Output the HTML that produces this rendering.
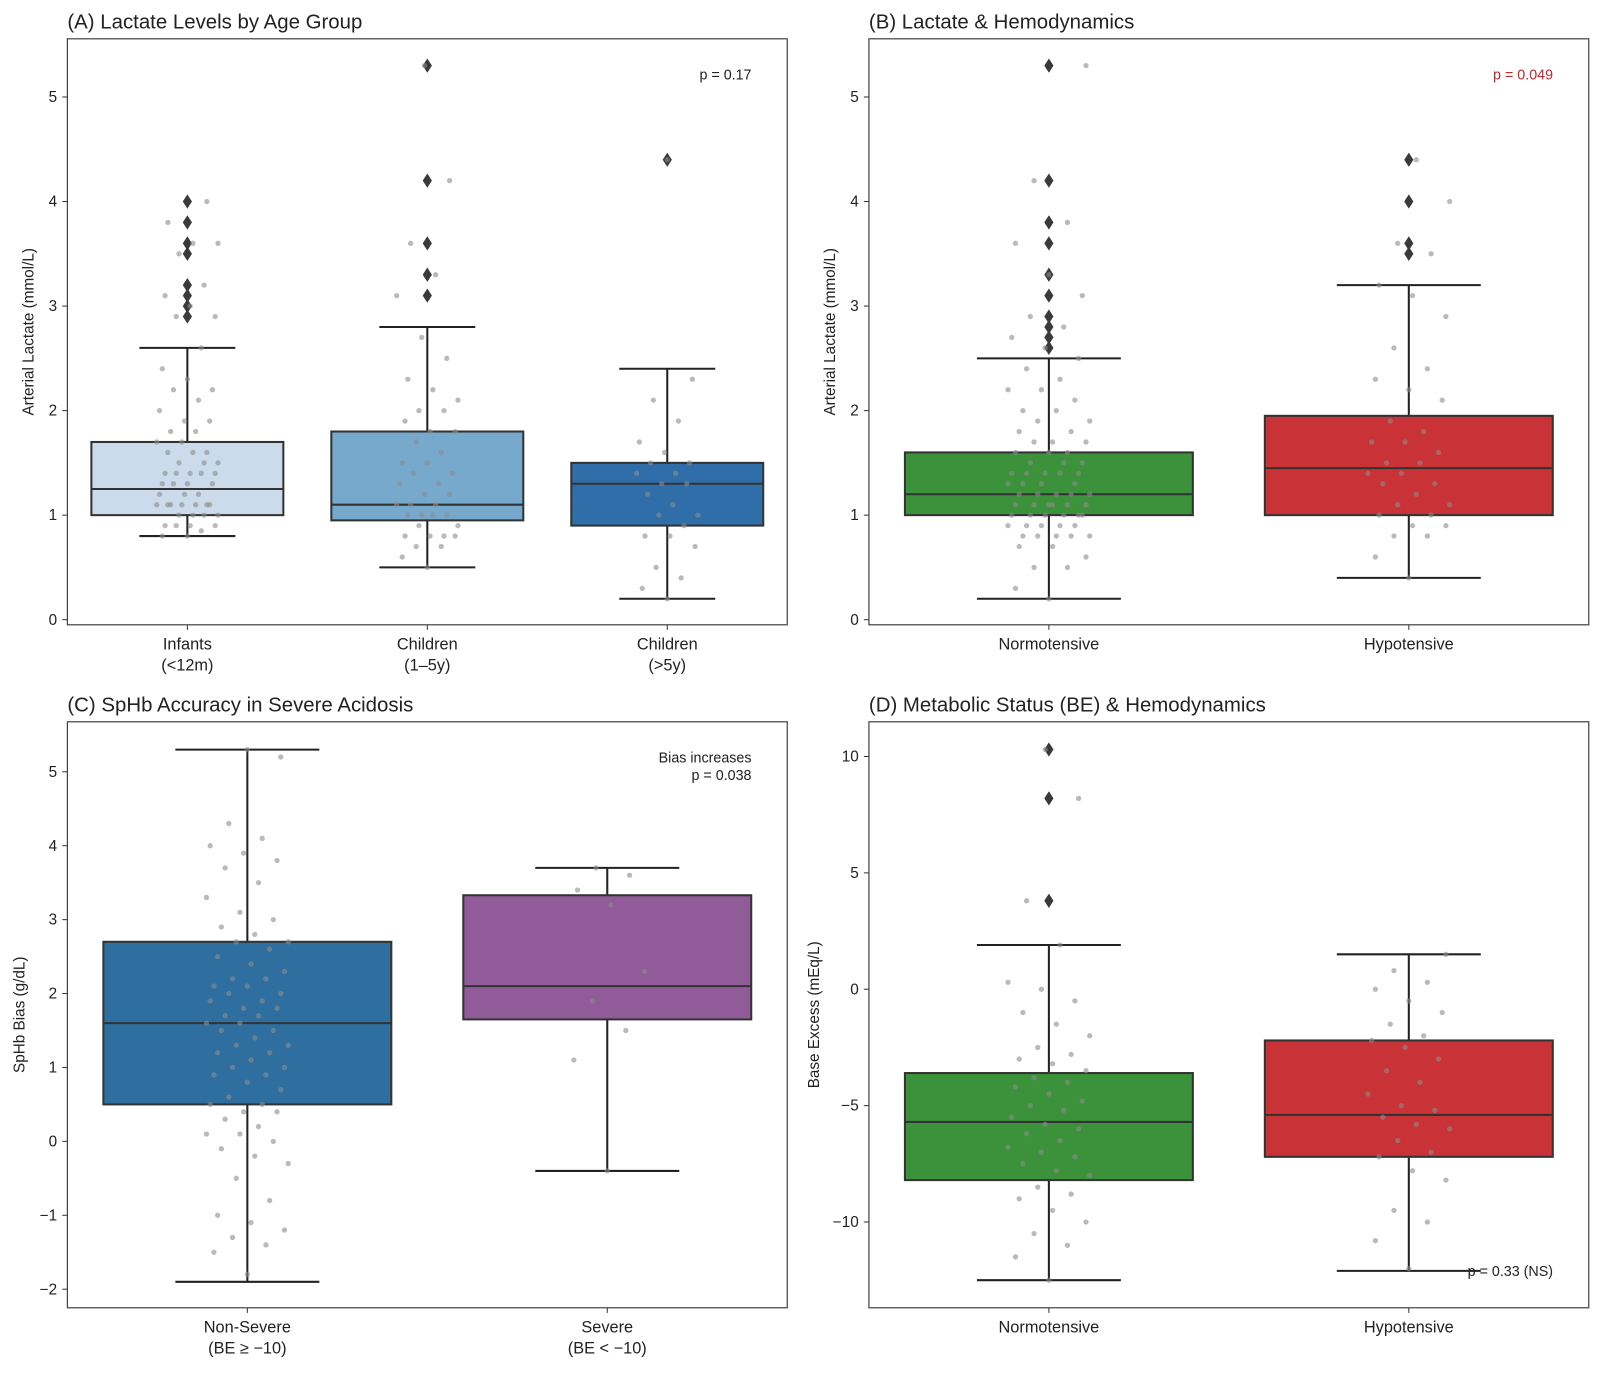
<!DOCTYPE html>
<html><head><meta charset="utf-8"><style>
body{margin:0;background:#fff;font-family:"Liberation Sans",sans-serif}
svg text{font-family:"Liberation Sans",sans-serif}
</style></head><body>
<svg id="chart" width="1600" height="1368" viewBox="0 0 1567 1340" preserveAspectRatio="none" xmlns="http://www.w3.org/2000/svg"></svg>
<script>
// Panel A data
const catsA = [["Infants","(<12m)"],["Children","(1\u20135y)"],["Children","(>5y)"]];
const boxA = [[0.8,1.0,1.25,1.7,2.6],[0.5,0.95,1.1,1.8,2.8],[0.2,0.9,1.3,1.5,2.4]];
const outA = [[2.9,3.0,3.1,3.2,3.5,3.6,3.8,4.0],[3.1,3.3,3.6,4.2,5.3],[4.4]];
const ptsA = [
 [0.8,0.8,0.85,0.9,0.9,0.9,0.9,1.0,1.0,1.0,1.0,1.1,1.1,1.1,1.1,1.1,1.1,1.1,1.2,1.2,1.2,1.3,1.3,1.3,1.3,1.4,1.4,1.4,1.4,1.4,1.5,1.5,1.5,1.6,1.6,1.6,1.7,1.7,1.8,1.8,1.9,1.9,2.0,2.1,2.2,2.2,2.3,2.4,2.6,2.9,2.9,3.0,3.1,3.2,3.5,3.6,3.6,3.8,4.0],
 [0.5,0.6,0.7,0.7,0.8,0.8,0.8,0.8,0.9,0.9,1.0,1.0,1.0,1.0,1.1,1.1,1.1,1.2,1.2,1.3,1.3,1.4,1.4,1.5,1.5,1.6,1.7,1.8,1.8,1.9,2.0,2.0,2.1,2.2,2.3,2.5,2.7,3.1,3.3,3.6,4.2,5.3],
 [0.2,0.3,0.4,0.5,0.7,0.8,0.8,0.9,1.0,1.0,1.1,1.2,1.3,1.3,1.4,1.4,1.5,1.5,1.6,1.7,1.9,2.1,2.3,4.4]
];
// Panel B data
const catsB = [["Normotensive"],["Hypotensive"]];
const boxB = [[0.2,1.0,1.2,1.6,2.5],[0.4,1.0,1.45,1.95,3.2]];
const outB = [[2.6,2.7,2.8,2.9,3.1,3.3,3.6,3.8,4.2,5.3],[3.5,3.6,4.0,4.4]];
const ptsB = [
 [0.2,0.3,0.5,0.5,0.6,0.7,0.7,0.8,0.8,0.8,0.8,0.8,0.9,0.9,0.9,0.9,0.9,1.0,1.0,1.0,1.0,1.0,1.0,1.1,1.1,1.1,1.1,1.1,1.1,1.2,1.2,1.2,1.2,1.2,1.3,1.3,1.3,1.3,1.4,1.4,1.4,1.4,1.4,1.5,1.5,1.5,1.6,1.6,1.6,1.7,1.7,1.7,1.8,1.8,1.9,1.9,2.0,2.0,2.1,2.2,2.2,2.3,2.4,2.5,2.6,2.7,2.8,2.9,3.1,3.3,3.6,3.8,4.2,5.3],
 [0.4,0.6,0.8,0.8,0.9,0.9,1.0,1.0,1.1,1.1,1.2,1.3,1.3,1.4,1.4,1.5,1.5,1.6,1.7,1.7,1.8,1.9,2.1,2.2,2.3,2.4,2.6,2.9,3.1,3.2,3.5,3.6,4.0,4.4]
];
// Panel C data
const catsC = [["Non-Severe","(BE \u2265 \u221210)"],["Severe","(BE < \u221210)"]];
const boxC = [[-1.9,0.5,1.6,2.7,5.3],[-0.4,1.65,2.1,3.33,3.7]];
const outC = [[],[]];
const ptsC = [
 [-1.8,-1.5,-1.4,-1.3,-1.2,-1.1,-1.0,-0.8,-0.5,-0.3,-0.2,-0.1,0.0,0.1,0.1,0.2,0.3,0.4,0.4,0.5,0.5,0.6,0.7,0.8,0.9,0.9,1.0,1.0,1.1,1.2,1.2,1.3,1.3,1.4,1.5,1.5,1.6,1.6,1.7,1.7,1.8,1.8,1.9,1.9,2.0,2.0,2.1,2.1,2.2,2.2,2.3,2.4,2.5,2.6,2.7,2.7,2.8,2.9,3.0,3.1,3.3,3.5,3.7,3.8,3.9,4.0,4.1,4.3,5.2,5.3],
 [-0.4,1.1,1.5,1.9,2.3,3.2,3.4,3.6,3.7]
];
// Panel D data
const catsD = [["Normotensive"],["Hypotensive"]];
const boxD = [[-12.5,-8.2,-5.7,-3.6,1.9],[-12.1,-7.2,-5.4,-2.2,1.5]];
const outD = [[3.8,8.2,10.3],[]];
const ptsD = [
 [-12.5,-11.5,-11,-10.5,-10,-9.5,-9,-8.8,-8.5,-8,-7.8,-7.5,-7.2,-7,-6.8,-6.5,-6.2,-6,-5.8,-5.5,-5.2,-5,-4.8,-4.5,-4.2,-4,-3.8,-3.5,-3.2,-3,-2.8,-2.5,-2,-1.5,-1,-0.5,0,0.3,1.9,3.8,8.2,10.3],
 [-12,-10.8,-10,-9.5,-8.2,-7.8,-7.2,-7,-6.5,-6,-5.8,-5.5,-5.2,-5,-4.5,-4,-3.5,-3,-2.5,-2.2,-2,-1.5,-1,-0.5,0,0.3,0.8,1.5]
];

const svg = document.getElementById('chart');
const NS = 'http://www.w3.org/2000/svg';
function mk(tag, attrs, parent){const e=document.createElementNS(NS,tag);for(const k in attrs)e.setAttribute(k,attrs[k]);(parent||svg).appendChild(e);return e;}
function txt(s, attrs, parent){const e=mk('text',attrs,parent);e.textContent=s;return e;}

function panel(o){
  const g = mk('g',{});
  
  
  const y = v => o.y0 + (v - o.vmin) * (o.y1 - o.y0) / (o.vmax - o.vmin);
  const n = o.cats.length, bw = (o.x1 - o.x0)/n;
  const cx = i => o.x0 + bw*(i+0.5);
  const t = txt(o.title,{x:o.x0,y:o.y0t,'font-size':20,fill:'#222'},g);
  
  
  o.ticks.forEach(v=>{
    mk('line',{x1:o.x0-5,x2:o.x0,y1:y(v),y2:y(v),stroke:'#333','stroke-width':1},g);
    const l = txt(String(v).replace('-','\u2212'),{x:o.x0-10,y:y(v)+5,'font-size':15,'text-anchor':'end',fill:'#222'},g);
    
    
  });
  const yt = txt(o.ytitle,{x:0,y:0,'font-size':15,'text-anchor':'middle',fill:'#222',transform:`translate(${o.ytx},${(o.fy0+o.fy1)/2}) rotate(-90)`},g);
  
  
  o.cats.forEach((c,i)=>{
    const x = cx(i), b = o.box[i], w = bw*0.8;
    mk('line',{x1:x,x2:x,y1:o.fy1,y2:o.fy1+5,stroke:'#333'},g);
    c.forEach((s,k)=>{
      const l = txt(s,{x:x,y:o.fy1+24+k*21,'font-size':16,'text-anchor':'middle',fill:'#222'},g);
      
      
    });
    const wh = mk('path',{d:`M${x},${y(b[0])}V${y(b[1])}M${x},${y(b[3])}V${y(b[4])}M${x-w/4},${y(b[0])}H${x+w/4}M${x-w/4},${y(b[4])}H${x+w/4}`,stroke:'#222','stroke-width':2,fill:'none'},g);
    
    
    const r = mk('rect',{x:x-w/2,y:y(b[3]),width:w,height:y(b[1])-y(b[3]),fill:o.colors[i],stroke:'#333','stroke-width':2},g);
    
    
    const m = mk('line',{x1:x-w/2,x2:x+w/2,y1:y(b[2]),y2:y(b[2]),stroke:'#333','stroke-width':2},g);
    
    
    o.out[i].forEach(v=>{
      const d = mk('path',{d:`M${x},${y(v)-7}L${x+4.5},${y(v)}L${x},${y(v)+7}L${x-4.5},${y(v)}Z`,fill:'#3a3a3a'},g);
      
      
    });
    o.pts[i].forEach((v,j)=>{
      const jit = (((j*37+11)%23)/22 - 0.5) * o.jw;
      const p = mk('circle',{cx:x+jit,cy:y(v),r:2.6,fill:'#8c8c8c','fill-opacity':0.6},g);
      
      
    });
  });
  const fr = mk('rect',{x:o.x0,y:o.fy0,width:o.x1-o.x0,height:o.fy1-o.fy0,fill:'none',stroke:'#444','stroke-width':1.2},g);
  
  
  o.notes.forEach(n=>{
    const l = txt(n[0],{x:o.x1-35,y:n[1],'font-size':14,'text-anchor':'end',fill:n[2]||'#222'},g);
    
    
  });
}
panel({name:'panel-a',title:'(A) Lactate Levels by Age Group',x0:66,x1:771,fy0:38,fy1:612,y0t:28,y0:607,y1:95,vmin:0,vmax:5,ticks:[0,1,2,3,4,5],ytitle:'Arterial Lactate (mmol/L)',ytx:33,cats:catsA,box:boxA,out:outA,pts:ptsA,colors:['#cbdbeb','#76a9cc','#2f6ea8'],jw:60,notes:[['p = 0.17',78]]});
panel({name:'panel-b',title:'(B) Lactate & Hemodynamics',x0:851,x1:1556,fy0:38,fy1:612,y0t:28,y0:607,y1:95,vmin:0,vmax:5,ticks:[0,1,2,3,4,5],ytitle:'Arterial Lactate (mmol/L)',ytx:818,cats:catsB,box:boxB,out:outB,pts:ptsB,colors:['#3b923b','#c93236'],jw:80,notes:[['p = 0.049',78,'#c0282d']]});
panel({name:'panel-c',title:'(C) SpHb Accuracy in Severe Acidosis',x0:66,x1:771,fy0:707,fy1:1281,y0t:697,y0:1118,y1:756,vmin:0,vmax:5,ticks:[-2,-1,0,1,2,3,4,5],ytitle:'SpHb Bias (g/dL)',ytx:24,cats:catsC,box:boxC,out:outC,pts:ptsC,colors:['#2e6fa0','#915a99'],jw:80,notes:[['Bias increases',747],['p = 0.038',764]]});
panel({name:'panel-d',title:'(D) Metabolic Status (BE) & Hemodynamics',x0:851,x1:1556,fy0:707,fy1:1281,y0t:697,y0:969,y1:741,vmin:0,vmax:10,ticks:[-10,-5,0,5,10],ytitle:'Base Excess (mEq/L)',ytx:802,cats:catsD,box:boxD,out:outD,pts:ptsD,colors:['#3b923b','#c93236'],jw:80,notes:[['p = 0.33 (NS)',1250]]});
</script>
</body></html>
